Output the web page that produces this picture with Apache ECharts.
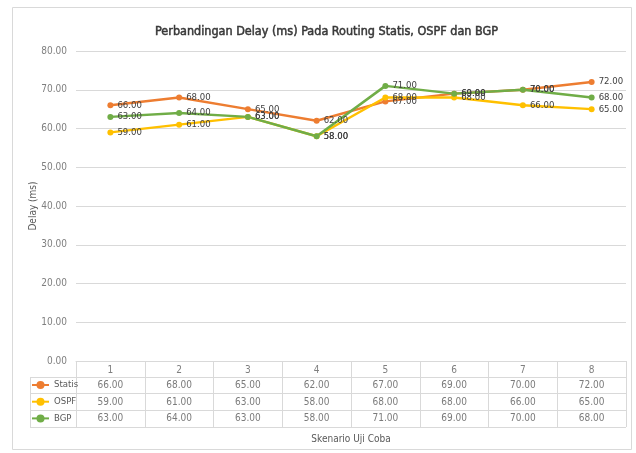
<!DOCTYPE html>
<html><head><meta charset="utf-8">
<script src="https://cdn.jsdelivr.net/npm/echarts@6/dist/echarts.min.js"></script>
<style>html,body{margin:0;padding:0;background:#fff}#c{width:636px;height:453px}</style>
</head><body><div id="c"></div>
<script>
var categories = ['1','2','3','4','5','6','7','8'];
var seriesNames = ['Statis','OSPF','BGP'];
var statis = [66,68,65,62,67,69,70,72];
var ospf = [59,61,63,58,68,68,66,65];
var bgp = [63,64,63,58,71,69,70,68];
var yTicks = [0,10,20,30,40,50,60,70,80];
var colors = ['#ED7D31','#FFC000','#70AD47'];
var values = [statis, ospf, bgp];
var FONT = '"Liberation Sans Narrow","DejaVu Sans Condensed",sans-serif';

var chart = echarts.init(document.getElementById('c'));
var series = [];
values.forEach(function(v, k){
  series.push({
    name: seriesNames[k], type: 'line', xAxisIndex: 0, yAxisIndex: 0,
    data: v, symbol: 'circle', symbolSize: 6,
    lineStyle: {color: colors[k], width: 2.5},
    itemStyle: {color: colors[k]},
    label: {show: true, position: 'right', distance: 4, color: '#404040', fontSize: 9.5, fontFamily: FONT,
      formatter: function(p){ return p.value.toFixed(2); }}
  });
});
values.forEach(function(v, k){
  series.push({
    name: 'tbl' + k, type: 'scatter', xAxisIndex: 1, yAxisIndex: 1, silent: true,
    data: v.map(function(val, i){ return [i, k, val]; }),
    symbolSize: 1, itemStyle: {color: 'rgba(0,0,0,0)'},
    label: {show: true, position: 'inside', color: '#595959', fontSize: 10, fontFamily: FONT,
      formatter: function(p){ return p.value[2].toFixed(2); }}
  });
});

chart.setOption({
  animation: false,
  title: {text: 'Perbandingan Delay (ms) Pada Routing Statis, OSPF dan BGP', left: 150, top: 20,
    textStyle: {fontFamily: FONT, fontSize: 12.5, fontWeight: 'normal', color: '#383838',
      textBorderColor: '#383838', textBorderWidth: 0.5}},
  legend: {data: seriesNames, orient: 'vertical', left: 31, top: 380, padding: 0, itemWidth: 17, itemHeight: 10, itemGap: 6.7,
    selectedMode: false, textStyle: {fontFamily: FONT, fontSize: 9.5, color: '#595959', lineHeight: 10}},
  grid: [
    {left: 76, right: 10, top: 51, height: 310},
    {left: 76, right: 10, top: 377, height: 50}
  ],
  xAxis: [
    {type: 'category', gridIndex: 0, data: categories, boundaryGap: true,
      name: 'Skenario Uji Coba', nameLocation: 'middle', nameGap: 73, nameMoveOverlap: false,
      nameTextStyle: {fontFamily: FONT, fontSize: 10, color: '#595959'},
      axisLine: {lineStyle: {color: '#d9d9d9'}},
      axisTick: {show: true, interval: 0, length: 16, lineStyle: {color: '#d9d9d9'}},
      axisLabel: {interval: 0, margin: 4, color: '#7f7f7f', fontSize: 10, fontFamily: FONT}},
    {type: 'category', gridIndex: 1, data: categories, boundaryGap: true,
      axisLine: {show: false}, axisTick: {show: false}, axisLabel: {show: false},
      splitLine: {show: true, interval: 0, lineStyle: {color: '#d9d9d9'}}}
  ],
  yAxis: [
    {type: 'value', gridIndex: 0, min: 0, max: 80, interval: 10,
      name: 'Delay (ms)', nameLocation: 'middle', nameGap: 38, nameRotate: 90, nameMoveOverlap: false,
      nameTextStyle: {fontFamily: FONT, fontSize: 10, color: '#595959'},
      axisLine: {show: false}, axisTick: {show: false},
      axisLabel: {margin: 9, color: '#7f7f7f', fontSize: 10, fontFamily: FONT,
        formatter: function(v){ return yTicks.indexOf(v) >= 0 ? v.toFixed(2) : ''; }},
      splitLine: {lineStyle: {color: '#d9d9d9'}}},
    {type: 'category', gridIndex: 1, data: seriesNames, inverse: true, boundaryGap: true,
      axisLine: {show: false}, axisLabel: {show: false},
      axisTick: {show: true, interval: 0, length: 46, lineStyle: {color: '#d9d9d9'}},
      splitLine: {show: true, interval: 0, lineStyle: {color: '#d9d9d9'}}}
  ],
  graphic: [
    {type: 'rect', shape: {x: 12.5, y: 7.5, width: 619, height: 442}, style: {fill: null, stroke: '#d9d9d9', lineWidth: 1}, silent: true, z: -1},
    {type: 'line', shape: {x1: 30.5, y1: 377, x2: 30.5, y2: 427}, style: {stroke: '#d9d9d9', lineWidth: 1}, silent: true}
  ],
  series: series
});
</script></body></html>
